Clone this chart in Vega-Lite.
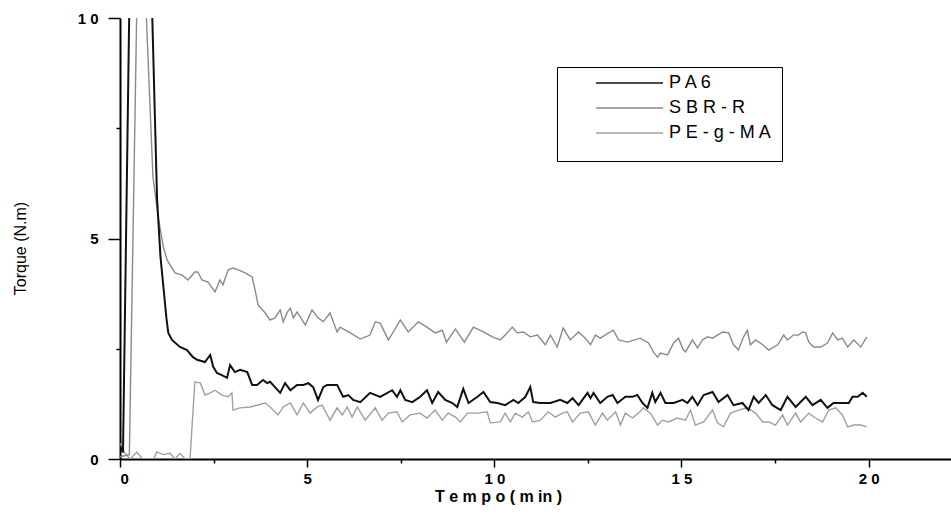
{
  "$schema": "https://vega.github.io/schema/vega-lite/v6.json",
  "width": 831,
  "height": 441,
  "autosize": {"type": "none"},
  "padding": {"left": 120, "top": 18, "right": 0, "bottom": 69},
  "background": "white",
  "config": {
    "view": {"stroke": null},
    "font": "Liberation Sans"
  },
  "datasets": {
    "PA6": [{"t":0,"v":0.3},{"t":0.08,"v":0.15},{"t":0.25,"v":10.3},{"t":0.55,"v":24},{"t":0.86,"v":10.1},{"t":0.99,"v":5.9},{"t":1.08,"v":4.6},{"t":1.16,"v":3.9},{"t":1.24,"v":3.2},{"t":1.29,"v":2.86},{"t":1.39,"v":2.7},{"t":1.6,"v":2.54},{"t":1.79,"v":2.47},{"t":1.95,"v":2.31},{"t":2.06,"v":2.25},{"t":2.27,"v":2.2},{"t":2.41,"v":2.36},{"t":2.49,"v":2.09},{"t":2.59,"v":1.95},{"t":2.72,"v":1.9},{"t":2.86,"v":1.84},{"t":2.94,"v":2.13},{"t":3.07,"v":1.97},{"t":3.21,"v":2.02},{"t":3.4,"v":1.97},{"t":3.53,"v":1.68},{"t":3.66,"v":1.68},{"t":3.82,"v":1.79},{"t":3.93,"v":1.72},{"t":4.01,"v":1.75},{"t":4.14,"v":1.63},{"t":4.28,"v":1.5},{"t":4.41,"v":1.72},{"t":4.55,"v":1.56},{"t":4.73,"v":1.68},{"t":4.9,"v":1.68},{"t":5.03,"v":1.72},{"t":5.16,"v":1.63},{"t":5.29,"v":1.34},{"t":5.43,"v":1.63},{"t":5.53,"v":1.68},{"t":5.8,"v":1.68},{"t":5.96,"v":1.41},{"t":6.1,"v":1.45},{"t":6.23,"v":1.34},{"t":6.42,"v":1.29},{"t":6.68,"v":1.5},{"t":6.95,"v":1.41},{"t":7.27,"v":1.56},{"t":7.4,"v":1.41},{"t":7.49,"v":1.56},{"t":7.62,"v":1.34},{"t":7.81,"v":1.29},{"t":8.02,"v":1.41},{"t":8.2,"v":1.56},{"t":8.34,"v":1.27},{"t":8.5,"v":1.52},{"t":8.69,"v":1.34},{"t":8.88,"v":1.27},{"t":9.01,"v":1.18},{"t":9.17,"v":1.59},{"t":9.31,"v":1.27},{"t":9.55,"v":1.41},{"t":9.71,"v":1.52},{"t":9.89,"v":1.29},{"t":10.08,"v":1.27},{"t":10.29,"v":1.22},{"t":10.51,"v":1.34},{"t":10.64,"v":1.27},{"t":10.83,"v":1.41},{"t":10.96,"v":1.63},{"t":11.04,"v":1.29},{"t":11.23,"v":1.27},{"t":11.5,"v":1.27},{"t":11.76,"v":1.34},{"t":11.95,"v":1.27},{"t":12.09,"v":1.38},{"t":12.25,"v":1.22},{"t":12.49,"v":1.5},{"t":12.57,"v":1.38},{"t":12.65,"v":1.5},{"t":12.83,"v":1.27},{"t":13.02,"v":1.41},{"t":13.16,"v":1.45},{"t":13.29,"v":1.27},{"t":13.5,"v":1.41},{"t":13.69,"v":1.41},{"t":13.82,"v":1.45},{"t":13.96,"v":1.27},{"t":14.09,"v":1.16},{"t":14.22,"v":1.5},{"t":14.3,"v":1.29},{"t":14.44,"v":1.5},{"t":14.57,"v":1.27},{"t":14.79,"v":1.27},{"t":15.03,"v":1.34},{"t":15.16,"v":1.27},{"t":15.29,"v":1.41},{"t":15.43,"v":1.22},{"t":15.59,"v":1.45},{"t":15.83,"v":1.52},{"t":15.99,"v":1.29},{"t":16.23,"v":1.45},{"t":16.39,"v":1.22},{"t":16.63,"v":1.27},{"t":16.79,"v":1.11},{"t":16.93,"v":1.41},{"t":17.06,"v":1.27},{"t":17.25,"v":1.45},{"t":17.43,"v":1.22},{"t":17.65,"v":1.11},{"t":17.83,"v":1.41},{"t":18.05,"v":1.18},{"t":18.32,"v":1.41},{"t":18.5,"v":1.22},{"t":18.72,"v":1.34},{"t":18.9,"v":1.16},{"t":19.06,"v":1.27},{"t":19.33,"v":1.27},{"t":19.47,"v":1.27},{"t":19.57,"v":1.41},{"t":19.71,"v":1.41},{"t":19.84,"v":1.5},{"t":19.95,"v":1.41}],
    "SBR": [{"t":0,"v":0.05},{"t":0.25,"v":0.1},{"t":0.45,"v":10.3},{"t":0.58,"v":22},{"t":0.7,"v":10.1},{"t":0.88,"v":6.4},{"t":1.02,"v":5.49},{"t":1.16,"v":4.8},{"t":1.26,"v":4.51},{"t":1.47,"v":4.22},{"t":1.66,"v":4.17},{"t":1.82,"v":4.06},{"t":2.0,"v":4.24},{"t":2.08,"v":4.24},{"t":2.19,"v":4.06},{"t":2.35,"v":4.01},{"t":2.54,"v":3.79},{"t":2.67,"v":4.06},{"t":2.75,"v":3.95},{"t":2.89,"v":4.29},{"t":3.02,"v":4.33},{"t":3.16,"v":4.29},{"t":3.34,"v":4.22},{"t":3.53,"v":4.13},{"t":3.61,"v":3.83},{"t":3.69,"v":3.49},{"t":3.88,"v":3.31},{"t":4.01,"v":3.15},{"t":4.14,"v":3.2},{"t":4.28,"v":3.38},{"t":4.36,"v":3.11},{"t":4.47,"v":3.33},{"t":4.55,"v":3.42},{"t":4.63,"v":3.2},{"t":4.73,"v":3.33},{"t":4.87,"v":3.15},{"t":4.95,"v":3.04},{"t":5.13,"v":3.38},{"t":5.27,"v":3.22},{"t":5.43,"v":3.11},{"t":5.61,"v":3.31},{"t":5.8,"v":2.88},{"t":5.88,"v":2.99},{"t":6.15,"v":2.86},{"t":6.42,"v":2.72},{"t":6.68,"v":2.81},{"t":6.82,"v":3.11},{"t":6.95,"v":3.08},{"t":7.17,"v":2.7},{"t":7.3,"v":2.88},{"t":7.49,"v":3.15},{"t":7.7,"v":2.88},{"t":7.97,"v":3.11},{"t":8.2,"v":2.99},{"t":8.42,"v":2.86},{"t":8.61,"v":2.92},{"t":8.72,"v":2.65},{"t":8.96,"v":2.95},{"t":9.2,"v":2.65},{"t":9.44,"v":2.99},{"t":9.71,"v":2.88},{"t":9.95,"v":2.77},{"t":10.16,"v":2.7},{"t":10.29,"v":2.81},{"t":10.48,"v":2.99},{"t":10.61,"v":2.86},{"t":10.78,"v":2.88},{"t":10.96,"v":2.77},{"t":11.15,"v":2.81},{"t":11.36,"v":2.59},{"t":11.5,"v":2.81},{"t":11.68,"v":2.54},{"t":11.84,"v":2.97},{"t":12.03,"v":2.7},{"t":12.25,"v":2.88},{"t":12.43,"v":2.74},{"t":12.57,"v":2.59},{"t":12.7,"v":2.81},{"t":12.83,"v":2.74},{"t":13.05,"v":2.86},{"t":13.18,"v":2.92},{"t":13.32,"v":2.7},{"t":13.56,"v":2.65},{"t":13.9,"v":2.74},{"t":14.12,"v":2.63},{"t":14.25,"v":2.43},{"t":14.36,"v":2.31},{"t":14.44,"v":2.4},{"t":14.63,"v":2.36},{"t":14.79,"v":2.63},{"t":14.92,"v":2.74},{"t":15.05,"v":2.47},{"t":15.11,"v":2.43},{"t":15.29,"v":2.7},{"t":15.43,"v":2.52},{"t":15.56,"v":2.7},{"t":15.7,"v":2.77},{"t":15.83,"v":2.74},{"t":15.96,"v":2.81},{"t":16.1,"v":2.88},{"t":16.26,"v":2.86},{"t":16.39,"v":2.59},{"t":16.52,"v":2.47},{"t":16.66,"v":2.77},{"t":16.76,"v":2.92},{"t":16.84,"v":2.59},{"t":16.98,"v":2.7},{"t":17.17,"v":2.59},{"t":17.33,"v":2.47},{"t":17.57,"v":2.59},{"t":17.73,"v":2.81},{"t":17.83,"v":2.7},{"t":17.99,"v":2.81},{"t":18.12,"v":2.81},{"t":18.24,"v":2.88},{"t":18.32,"v":2.86},{"t":18.4,"v":2.65},{"t":18.53,"v":2.54},{"t":18.72,"v":2.54},{"t":18.9,"v":2.63},{"t":19.04,"v":2.86},{"t":19.17,"v":2.7},{"t":19.3,"v":2.74},{"t":19.44,"v":2.54},{"t":19.6,"v":2.7},{"t":19.79,"v":2.54},{"t":19.95,"v":2.77}],
    "PE": [{"t":0,"v":0.35},{"t":0.13,"v":0.13},{"t":0.27,"v":0.0},{"t":0.45,"v":0.16},{"t":0.6,"v":0.0},{"t":0.9,"v":0.0},{"t":0.98,"v":0.16},{"t":1.16,"v":0.1},{"t":1.34,"v":0.13},{"t":1.47,"v":0.0},{"t":1.6,"v":0.13},{"t":1.74,"v":0.0},{"t":1.87,"v":0.0},{"t":2.0,"v":1.75},{"t":2.15,"v":1.72},{"t":2.27,"v":1.45},{"t":2.41,"v":1.5},{"t":2.54,"v":1.56},{"t":2.72,"v":1.45},{"t":2.89,"v":1.41},{"t":2.99,"v":1.5},{"t":3.02,"v":1.11},{"t":3.2,"v":1.16},{"t":3.48,"v":1.18},{"t":3.88,"v":1.27},{"t":4.01,"v":1.18},{"t":4.22,"v":1.0},{"t":4.36,"v":1.18},{"t":4.55,"v":1.27},{"t":4.73,"v":1.0},{"t":4.9,"v":1.27},{"t":5.08,"v":1.04},{"t":5.27,"v":1.18},{"t":5.4,"v":1.22},{"t":5.61,"v":0.88},{"t":5.8,"v":1.16},{"t":5.94,"v":1.0},{"t":6.07,"v":1.18},{"t":6.2,"v":0.95},{"t":6.34,"v":1.18},{"t":6.55,"v":0.88},{"t":6.82,"v":1.16},{"t":7.0,"v":0.88},{"t":7.17,"v":1.04},{"t":7.4,"v":1.07},{"t":7.54,"v":0.84},{"t":7.75,"v":1.0},{"t":8.02,"v":1.04},{"t":8.2,"v":0.93},{"t":8.42,"v":1.11},{"t":8.61,"v":0.88},{"t":8.77,"v":1.04},{"t":8.96,"v":0.95},{"t":9.09,"v":0.84},{"t":9.28,"v":1.04},{"t":9.55,"v":1.04},{"t":9.81,"v":1.07},{"t":9.89,"v":0.82},{"t":10.16,"v":0.84},{"t":10.29,"v":1.04},{"t":10.43,"v":0.84},{"t":10.56,"v":1.04},{"t":10.75,"v":0.95},{"t":10.91,"v":1.07},{"t":11.02,"v":0.84},{"t":11.23,"v":0.88},{"t":11.44,"v":1.07},{"t":11.63,"v":0.95},{"t":11.82,"v":1.04},{"t":11.95,"v":1.07},{"t":12.09,"v":0.84},{"t":12.3,"v":1.04},{"t":12.51,"v":1.07},{"t":12.7,"v":0.77},{"t":12.89,"v":1.04},{"t":13.02,"v":0.88},{"t":13.24,"v":1.07},{"t":13.37,"v":0.77},{"t":13.5,"v":1.04},{"t":13.69,"v":0.93},{"t":13.85,"v":1.04},{"t":13.98,"v":1.16},{"t":14.17,"v":1.04},{"t":14.36,"v":0.77},{"t":14.49,"v":0.88},{"t":14.65,"v":0.84},{"t":14.89,"v":0.93},{"t":15.11,"v":0.88},{"t":15.24,"v":1.11},{"t":15.37,"v":0.77},{"t":15.59,"v":0.84},{"t":15.83,"v":1.11},{"t":15.96,"v":0.82},{"t":16.12,"v":0.73},{"t":16.31,"v":1.04},{"t":16.52,"v":1.11},{"t":16.76,"v":1.16},{"t":16.98,"v":1.04},{"t":17.17,"v":0.84},{"t":17.33,"v":0.84},{"t":17.51,"v":0.77},{"t":17.7,"v":1.0},{"t":17.83,"v":0.77},{"t":18.05,"v":1.04},{"t":18.18,"v":0.84},{"t":18.4,"v":1.04},{"t":18.58,"v":0.93},{"t":18.77,"v":0.84},{"t":18.93,"v":1.11},{"t":19.12,"v":1.16},{"t":19.3,"v":1.0},{"t":19.44,"v":0.73},{"t":19.6,"v":0.77},{"t":19.79,"v":0.77},{"t":19.95,"v":0.73}]
  },
  "encoding": {
    "x": {
      "field": "t", "type": "quantitative",
      "scale": {"domain": [0, 22.2], "nice": false, "zero": false},
      "axis": {
        "values": [0, 2.5, 5, 7.5, 10, 12.5, 15, 17.5, 20],
        "grid": false,
        "domainColor": "black", "domainWidth": 2,
        "tickColor": "black", "tickWidth": 1.5,
        "tickSize": {"condition": {"test": "datum.value % 5 === 0", "value": 8}, "value": 4},
        "labelExpr": "datum.value % 5 === 0 ? join(split(datum.label, ''), ' ') : ''",
        "labelFont": "Liberation Sans", "labelFontSize": 15, "labelFontWeight": "bold",
        "labelColor": "black", "labelPadding": 4,
        "title": "T e m p o   ( m in )",
        "titleFont": "Liberation Sans", "titleFontSize": 16, "titleFontWeight": "bold",
        "titleColor": "black",
        "titleX": 378, "titleY": 29, "titleAlign": "center", "titleBaseline": "top", "titleAnchor": null
      }
    },
    "y": {
      "field": "v", "type": "quantitative",
      "scale": {"domain": [0, 10], "nice": false},
      "axis": {
        "values": [0, 2.5, 5, 7.5, 10],
        "grid": false,
        "domainColor": "black", "domainWidth": 2,
        "tickColor": "black", "tickWidth": 1.5,
        "tickSize": {"condition": {"test": "datum.value % 5 === 0", "value": 12}, "value": 4},
        "labelExpr": "datum.value % 5 === 0 ? join(split(datum.label, ''), ' ') : ''",
        "labelFont": "Liberation Sans", "labelFontSize": 15, "labelFontWeight": "bold",
        "labelColor": "black", "labelPadding": 10,
        "title": "Torque (N.m)",
        "titleFont": "Liberation Sans", "titleFontSize": 16, "titleFontWeight": "normal",
        "titleColor": "black",
        "titleX": -100, "titleY": 230, "titleAngle": -90, "titleAlign": "center", "titleBaseline": "middle", "titleAnchor": null
      }
    }
  },
  "layer": [
    {
      "data": {"name": "PE"},
      "mark": {"type": "line", "clip": true, "strokeWidth": 1.4},
      "encoding": {"color": {"datum": "PE-g-MA"}}
    },
    {
      "data": {"name": "SBR"},
      "mark": {"type": "line", "clip": true, "strokeWidth": 1.4},
      "encoding": {"color": {"datum": "SBR-R"}}
    },
    {
      "data": {"name": "PA6"},
      "mark": {"type": "line", "clip": true, "strokeWidth": 2},
      "encoding": {
        "color": {
          "datum": "PA6",
          "scale": {"domain": ["PA6", "SBR-R", "PE-g-MA"], "range": ["#111111", "#8a8a8a", "#a0a0a0"]},
          "legend": {
            "orient": "none", "legendX": 437, "legendY": 49,
            "title": " ", "titleOrient": "bottom", "titleFontSize": 8, "titlePadding": 2,
            "strokeColor": "black", "fillColor": "white",
            "padding": 9,
            "symbolType": "stroke", "symbolSize": 4489, "symbolStrokeWidth": 1.5,
            "symbolOffset": 29, "clipHeight": 14,
            "labelExpr": "join(split(datum.label, ''), ' ')",
            "labelFont": "Liberation Sans", "labelFontSize": 18, "labelColor": "black",
            "labelOffset": 5, "rowPadding": 7
          }
        }
      }
    }
  ]
}
